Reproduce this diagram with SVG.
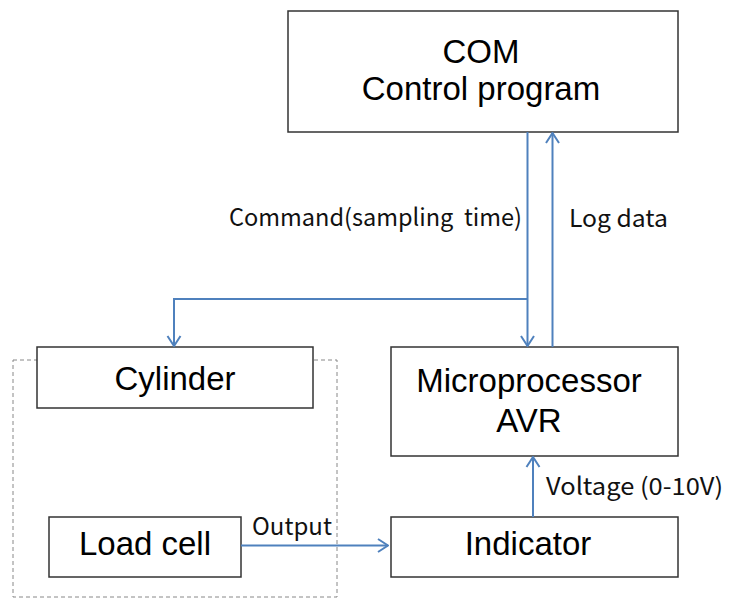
<svg xmlns="http://www.w3.org/2000/svg" width="730" height="598" viewBox="0 0 730 598">
<defs>
<style>
.box{fill:#fff;stroke:#333;stroke-width:1.5}
.nt{font-family:"Liberation Sans",Arial,sans-serif;font-size:33px;fill:#000;text-anchor:middle}
.lb{font-family:"Noto Sans CJK KR","Noto Sans",sans-serif;font-size:24px;fill:#111}
.ln{fill:none;stroke:#4f81bd;stroke-width:2}
</style>
<marker id="ah" viewBox="0 0 12 16" refX="11" refY="8" markerWidth="12" markerHeight="16" markerUnits="userSpaceOnUse" orient="auto">
<path d="M1,1.5 L11,8 L1,14.5" fill="none" stroke="#4f81bd" stroke-width="2"/>
</marker>
</defs>
<rect width="730" height="598" fill="#fff"/>
<rect id="group-frame" x="13" y="360" width="324" height="237" fill="none" stroke="#888" stroke-width="1" stroke-dasharray="4,3"/>
<g id="com">
<rect class="box" x="288" y="11" width="390" height="121"/>
<text class="nt" x="481" y="63">COM</text>
<text class="nt" x="481" y="100">Control program</text>
</g>
<g id="cylinder">
<rect class="box" x="37" y="347" width="276" height="61"/>
<text class="nt" x="175" y="390">Cylinder</text>
</g>
<g id="microprocessor">
<rect class="box" x="391" y="347" width="287" height="109"/>
<text class="nt" x="529" y="392">Microprocessor</text>
<text class="nt" x="529" y="432">AVR</text>
</g>
<g id="loadcell">
<rect class="box" x="49" y="517" width="192" height="60"/>
<text class="nt" x="145" y="555">Load cell</text>
</g>
<g id="indicator">
<rect class="box" x="391" y="517" width="287" height="60"/>
<text class="nt" x="528" y="555">Indicator</text>
</g>
<g id="connectors">
<path class="ln" d="M527.5,132 V346" marker-end="url(#ah)"/>
<path class="ln" d="M527.5,299 H174 V346" marker-end="url(#ah)"/>
<path class="ln" d="M552.5,347 V133" marker-end="url(#ah)"/>
<path class="ln" d="M241,545.5 H388" marker-end="url(#ah)"/>
<path class="ln" d="M533,517 V457" marker-end="url(#ah)"/>
<text class="lb" x="229" y="226" xml:space="preserve" textLength="293" lengthAdjust="spacingAndGlyphs">Command(sampling  time)</text>
<text class="lb" x="569" y="227" textLength="99" lengthAdjust="spacingAndGlyphs">Log data</text>
<text class="lb" x="252" y="535" textLength="80" lengthAdjust="spacingAndGlyphs">Output</text>
<text class="lb" x="546" y="495" textLength="177" lengthAdjust="spacingAndGlyphs">Voltage (0-10V)</text>
</g>
</svg>
